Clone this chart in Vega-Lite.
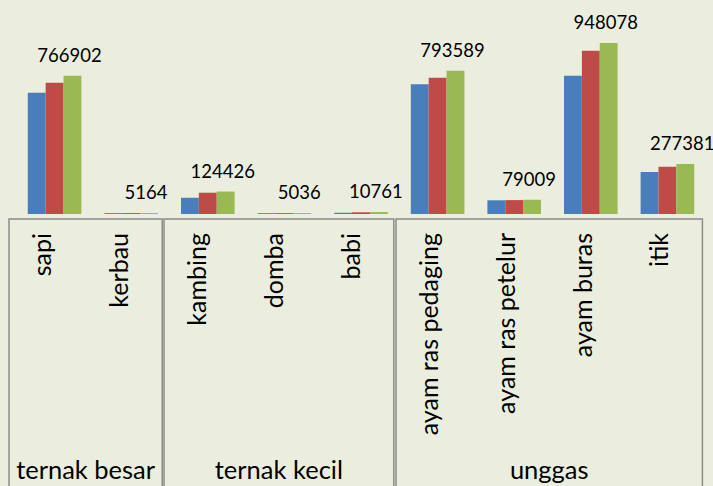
{
  "$schema": "https://vega.github.io/schema/vega-lite/v6.json",
  "background": "#EBEEDF",
  "padding": {"left": 8, "top": 10, "right": 0, "bottom": 0},
  "config": {"view": {"stroke": null}, "font": "Lato", "text": {"font": "Lato", "color": "#000000"}},
  "datasets": {
    "ternak": [
      {"kelompok": "ternak besar", "kategori": "sapi", "seri": "2010", "nilai": 672000},
      {"kelompok": "ternak besar", "kategori": "sapi", "seri": "2011", "nilai": 727000},
      {"kelompok": "ternak besar", "kategori": "sapi", "seri": "2012", "nilai": 766902},
      {"kelompok": "ternak besar", "kategori": "kerbau", "seri": "2010", "nilai": 4800},
      {"kelompok": "ternak besar", "kategori": "kerbau", "seri": "2011", "nilai": 5000},
      {"kelompok": "ternak besar", "kategori": "kerbau", "seri": "2012", "nilai": 5164},
      {"kelompok": "ternak kecil", "kategori": "kambing", "seri": "2010", "nilai": 90000},
      {"kelompok": "ternak kecil", "kategori": "kambing", "seri": "2011", "nilai": 118000},
      {"kelompok": "ternak kecil", "kategori": "kambing", "seri": "2012", "nilai": 124426},
      {"kelompok": "ternak kecil", "kategori": "domba", "seri": "2010", "nilai": 4500},
      {"kelompok": "ternak kecil", "kategori": "domba", "seri": "2011", "nilai": 4800},
      {"kelompok": "ternak kecil", "kategori": "domba", "seri": "2012", "nilai": 5036},
      {"kelompok": "ternak kecil", "kategori": "babi", "seri": "2010", "nilai": 7000},
      {"kelompok": "ternak kecil", "kategori": "babi", "seri": "2011", "nilai": 9500},
      {"kelompok": "ternak kecil", "kategori": "babi", "seri": "2012", "nilai": 10761},
      {"kelompok": "unggas", "kategori": "ayam ras pedaging", "seri": "2010", "nilai": 720000},
      {"kelompok": "unggas", "kategori": "ayam ras pedaging", "seri": "2011", "nilai": 756000},
      {"kelompok": "unggas", "kategori": "ayam ras pedaging", "seri": "2012", "nilai": 793589},
      {"kelompok": "unggas", "kategori": "ayam ras petelur", "seri": "2010", "nilai": 76000},
      {"kelompok": "unggas", "kategori": "ayam ras petelur", "seri": "2011", "nilai": 77000},
      {"kelompok": "unggas", "kategori": "ayam ras petelur", "seri": "2012", "nilai": 79009},
      {"kelompok": "unggas", "kategori": "ayam buras", "seri": "2010", "nilai": 766000},
      {"kelompok": "unggas", "kategori": "ayam buras", "seri": "2011", "nilai": 905000},
      {"kelompok": "unggas", "kategori": "ayam buras", "seri": "2012", "nilai": 948078},
      {"kelompok": "unggas", "kategori": "itik", "seri": "2010", "nilai": 233000},
      {"kelompok": "unggas", "kategori": "itik", "seri": "2011", "nilai": 262000},
      {"kelompok": "unggas", "kategori": "itik", "seri": "2012", "nilai": 277381}
    ]
  },
  "spacing": 4,
  "vconcat": [
    {
      "width": 704,
      "height": 204,
      "data": {"name": "ternak"},
      "encoding": {
        "x": {"field": "kategori", "type": "nominal", "sort": null, "scale": {"type": "band", "paddingInner": 0.3, "paddingOuter": 0.245, "domain": ["sapi", "kerbau", "kambing", "domba", "babi", "ayam ras pedaging", "ayam ras petelur", "ayam buras", "itik"]}, "axis": null},
        "xOffset": {"field": "seri", "type": "nominal", "sort": null, "scale": {"domain": ["2010", "2011", "2012"], "paddingInner": 0, "paddingOuter": 0}},
        "y": {"field": "nilai", "type": "quantitative", "scale": {"domain": [0, 1131000], "nice": false, "zero": true}, "axis": null}
      },
      "layer": [
        {
          "mark": {"type": "bar"},
          "encoding": {
            "color": {"field": "seri", "type": "nominal", "scale": {"domain": ["2010", "2011", "2012"], "range": ["#4A7EBB", "#BE4B48", "#98B954"]}, "legend": null}
          }
        },
        {
          "transform": [{"filter": "datum.seri == '2012'"}],
          "mark": {"type": "text", "baseline": "alphabetic", "align": "center", "dy": -14, "dx": -3, "fontSize": 18.5, "font": "Lato", "color": "#000000"},
          "encoding": {
            "text": {"field": "nilai", "type": "quantitative", "format": "d"}
          }
        }
      ]
    },
    {
      "spacing": 0,
      "hconcat": [
        {
          "width": 153.2,
          "height": 268,
          "view": {"stroke": "#8C8C8C", "strokeWidth": 1.5},
          "data": {"name": "ternak"},
          "transform": [{"filter": "datum.seri == '2012' && datum.kelompok == 'ternak besar'"}],
          "layer": [
            {
              "mark": {"type": "text", "angle": 270, "align": "right", "baseline": "middle", "dy": -4, "fontSize": 25, "font": "Lato", "color": "#000000"},
              "encoding": {
                "x": {"field": "kategori", "type": "nominal", "sort": null, "scale": {"type": "band", "paddingInner": 0, "paddingOuter": 0}, "axis": null},
                "y": {"datum": "kategori", "type": "nominal", "scale": {"type": "point", "padding": 0, "domain": ["kategori", "kelompok"], "range": [14, 260]}, "axis": null},
                "text": {"field": "kategori", "type": "nominal"}
              }
            },
            {
              "transform": [{"aggregate": [{"op": "count", "as": "n"}], "groupby": ["kelompok"]}],
              "mark": {"type": "text", "align": "center", "baseline": "alphabetic", "fontSize": 25.5, "font": "Lato", "color": "#000000"},
              "encoding": {
                "y": {"datum": "kelompok", "type": "nominal"},
                "text": {"field": "kelompok", "type": "nominal"}
              }
            }
          ]
        },
        {
          "width": 229.8,
          "height": 268,
          "view": {"stroke": "#8C8C8C", "strokeWidth": 1.5},
          "data": {"name": "ternak"},
          "transform": [{"filter": "datum.seri == '2012' && datum.kelompok == 'ternak kecil'"}],
          "layer": [
            {
              "mark": {"type": "text", "angle": 270, "align": "right", "baseline": "middle", "dy": -4, "fontSize": 25, "font": "Lato", "color": "#000000"},
              "encoding": {
                "x": {"field": "kategori", "type": "nominal", "sort": null, "scale": {"type": "band", "paddingInner": 0, "paddingOuter": 0}, "axis": null},
                "y": {"datum": "kategori", "type": "nominal", "scale": {"type": "point", "padding": 0, "domain": ["kategori", "kelompok"], "range": [14, 260]}, "axis": null},
                "text": {"field": "kategori", "type": "nominal"}
              }
            },
            {
              "transform": [{"aggregate": [{"op": "count", "as": "n"}], "groupby": ["kelompok"]}],
              "mark": {"type": "text", "align": "center", "baseline": "alphabetic", "fontSize": 25.5, "font": "Lato", "color": "#000000"},
              "encoding": {
                "y": {"datum": "kelompok", "type": "nominal"},
                "text": {"field": "kelompok", "type": "nominal"}
              }
            }
          ]
        },
        {
          "width": 306.4,
          "height": 268,
          "view": {"stroke": "#8C8C8C", "strokeWidth": 1.5},
          "data": {"name": "ternak"},
          "transform": [{"filter": "datum.seri == '2012' && datum.kelompok == 'unggas'"}],
          "layer": [
            {
              "mark": {"type": "text", "angle": 270, "align": "right", "baseline": "middle", "dy": -4, "fontSize": 25, "font": "Lato", "color": "#000000"},
              "encoding": {
                "x": {"field": "kategori", "type": "nominal", "sort": null, "scale": {"type": "band", "paddingInner": 0, "paddingOuter": 0}, "axis": null},
                "y": {"datum": "kategori", "type": "nominal", "scale": {"type": "point", "padding": 0, "domain": ["kategori", "kelompok"], "range": [14, 260]}, "axis": null},
                "text": {"field": "kategori", "type": "nominal"}
              }
            },
            {
              "transform": [{"aggregate": [{"op": "count", "as": "n"}], "groupby": ["kelompok"]}],
              "mark": {"type": "text", "align": "center", "baseline": "alphabetic", "fontSize": 25.5, "font": "Lato", "color": "#000000"},
              "encoding": {
                "y": {"datum": "kelompok", "type": "nominal"},
                "text": {"field": "kelompok", "type": "nominal"}
              }
            }
          ]
        }
      ]
    }
  ]
}
